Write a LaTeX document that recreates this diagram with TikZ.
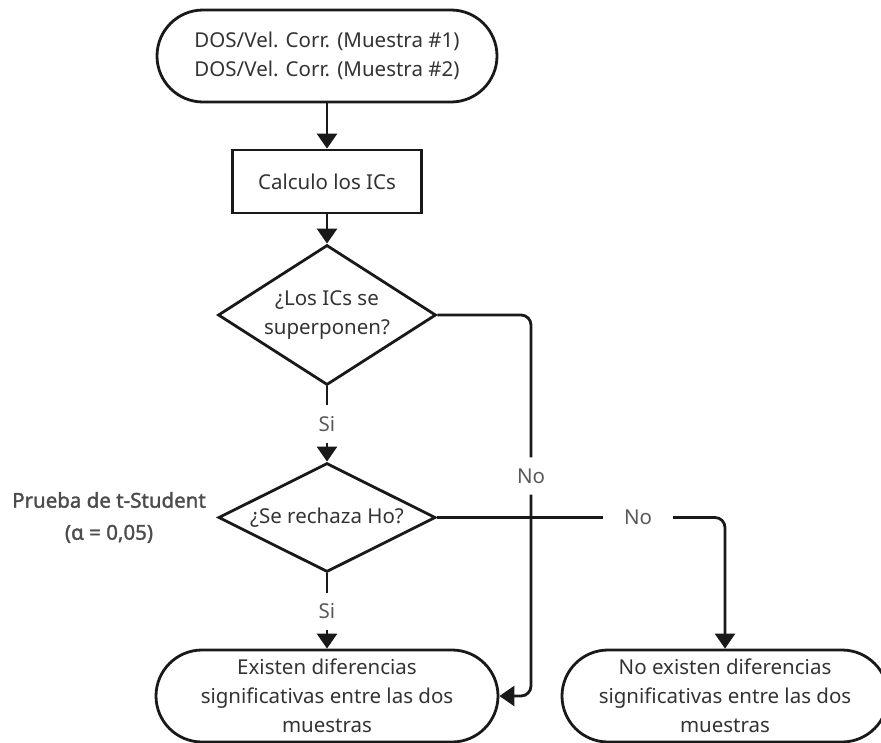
\documentclass[tikz,border=0pt]{standalone}
\usepackage{fontspec}
\setmainfont{Noto Sans}
\newfontfamily\prfont{Noto Sans}[FakeBold=1.6]
\usetikzlibrary{shapes.geometric,arrows.meta}

\begin{document}
\begin{tikzpicture}[x=1pt,y=1pt,
        every node/.style = {font=\fontsize{20.5}{29}\selectfont, text=black!80},
        term/.style = {draw=black!90, line width=2.8pt, rounded corners=46pt, minimum width=340pt, minimum height=92pt, align=center},
        proc/.style = {draw=black!90, line width=2.8pt, rectangle, minimum width=189pt, minimum height=63pt},
        dec/.style = {draw=black!90, line width=2.8pt, diamond, inner sep=0pt, align=center},
        lbl/.style = {text=black!65, inner xsep=21pt, inner ysep=11pt},
        link/.style = {draw=black!90, line width=2.8pt, rounded corners=10pt},
        flow/.style = {link, -{Triangle[width=20pt,length=15pt]}}]
        \useasboundingbox (0,0) rectangle (881,-742);
        \node[term] (1) at (327,-56) {DOS/Vel. Corr. (Muestra \#1)\\DOS/Vel. Corr. (Muestra \#2)};
        \node[proc] (2) [below of=1, node distance=125.5pt] {Calculo los ICs};
        \node[dec, aspect=1.55, minimum width=218pt, minimum height=140pt] (3) [below of=2, node distance=133.5pt] {¿Los ICs se\\superponen?};
        \node[lbl] (si1) [below of=3, node distance=109pt] {Si};
        \node[dec, aspect=2, minimum width=217pt, minimum height=109pt] (4) [below of=si1, node distance=93.5pt] {¿Se rechaza Ho?};
        \node[lbl] (si2) [below of=4, node distance=94pt] {Si};
        \node[term, minimum width=342pt] (5) [below of=si2, node distance=84.5pt] {Existen diferencias\\significativas entre las dos\\muestras};
        \node[term, minimum width=326pt] (6) [right of=5, node distance=398pt] {No existen diferencias\\significativas entre las dos\\muestras};
        \node[lbl] (no1) at (531,-476) {No};
        \node[lbl] (no2) [right of=4, node distance=311pt] {No};
        \node[font=\fontsize{20.5}{32}\prfont, text=black!70, align=center] (pr) [left of=4, node distance=218pt] {Prueba de t-Student\\(α = 0,05)};
        \draw[flow] (1) -- (2);
        \draw[flow] (2) -- (3);
        \draw[link] (3) -- (si1);
        \draw[flow] (si1) -- (4);
        \draw[link] (4) -- (si2);
        \draw[flow] (si2) -- (5);
        \draw[link] (3.east) -| (no1);
        \draw[flow] (no1) |- (5.east);
        \draw[link] (4.east) -- (no2);
        \draw[flow] (no2) -| (6);
\end{tikzpicture}
\end{document}
